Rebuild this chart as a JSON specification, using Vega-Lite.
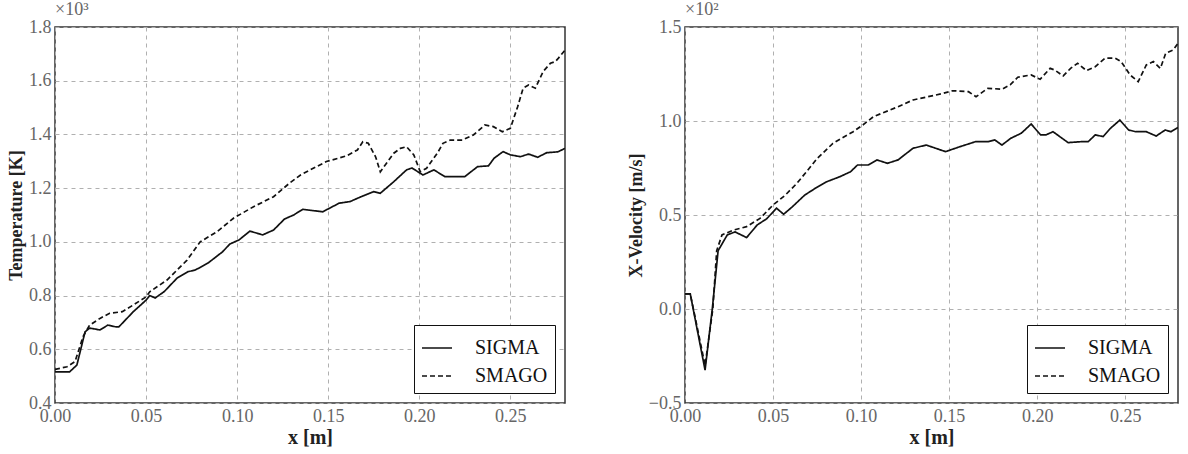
{
  "$schema": "https://vega.github.io/schema/vega-lite/v6.json",
  "padding": {"left": 6, "top": 0, "right": 4, "bottom": 0},
  "background": "white",
  "datasets": {
    "temp": [
      {"x": 0, "v": 516, "m": "SIGMA"}, {"x": 0.008, "v": 516, "m": "SIGMA"}, {"x": 0.012, "v": 541, "m": "SIGMA"}, {"x": 0.0165, "v": 665, "m": "SIGMA"}, {"x": 0.019, "v": 679, "m": "SIGMA"}, {"x": 0.0247, "v": 672, "m": "SIGMA"}, {"x": 0.029, "v": 690, "m": "SIGMA"}, {"x": 0.033, "v": 684, "m": "SIGMA"}, {"x": 0.035, "v": 683, "m": "SIGMA"}, {"x": 0.043, "v": 740, "m": "SIGMA"}, {"x": 0.05, "v": 783, "m": "SIGMA"}, {"x": 0.052, "v": 800, "m": "SIGMA"}, {"x": 0.055, "v": 791, "m": "SIGMA"}, {"x": 0.06, "v": 815, "m": "SIGMA"}, {"x": 0.067, "v": 865, "m": "SIGMA"}, {"x": 0.073, "v": 889, "m": "SIGMA"}, {"x": 0.077, "v": 895, "m": "SIGMA"}, {"x": 0.084, "v": 921, "m": "SIGMA"}, {"x": 0.092, "v": 963, "m": "SIGMA"}, {"x": 0.096, "v": 992, "m": "SIGMA"}, {"x": 0.101, "v": 1007, "m": "SIGMA"}, {"x": 0.107, "v": 1040, "m": "SIGMA"}, {"x": 0.114, "v": 1026, "m": "SIGMA"}, {"x": 0.12, "v": 1044, "m": "SIGMA"}, {"x": 0.126, "v": 1085, "m": "SIGMA"}, {"x": 0.131, "v": 1100, "m": "SIGMA"}, {"x": 0.136, "v": 1121, "m": "SIGMA"}, {"x": 0.147, "v": 1112, "m": "SIGMA"}, {"x": 0.156, "v": 1144, "m": "SIGMA"}, {"x": 0.162, "v": 1150, "m": "SIGMA"}, {"x": 0.168, "v": 1168, "m": "SIGMA"}, {"x": 0.175, "v": 1187, "m": "SIGMA"}, {"x": 0.1786, "v": 1181, "m": "SIGMA"}, {"x": 0.186, "v": 1224, "m": "SIGMA"}, {"x": 0.193, "v": 1268, "m": "SIGMA"}, {"x": 0.196, "v": 1275, "m": "SIGMA"}, {"x": 0.202, "v": 1249, "m": "SIGMA"}, {"x": 0.208, "v": 1268, "m": "SIGMA"}, {"x": 0.214, "v": 1243, "m": "SIGMA"}, {"x": 0.225, "v": 1243, "m": "SIGMA"}, {"x": 0.232, "v": 1280, "m": "SIGMA"}, {"x": 0.238, "v": 1283, "m": "SIGMA"}, {"x": 0.241, "v": 1311, "m": "SIGMA"}, {"x": 0.246, "v": 1336, "m": "SIGMA"}, {"x": 0.25, "v": 1324, "m": "SIGMA"}, {"x": 0.2555, "v": 1317, "m": "SIGMA"}, {"x": 0.26, "v": 1327, "m": "SIGMA"}, {"x": 0.265, "v": 1315, "m": "SIGMA"}, {"x": 0.27, "v": 1332, "m": "SIGMA"}, {"x": 0.276, "v": 1335, "m": "SIGMA"}, {"x": 0.28, "v": 1348, "m": "SIGMA"},
      {"x": 0, "v": 525, "m": "SMAGO"}, {"x": 0.0066, "v": 535, "m": "SMAGO"}, {"x": 0.011, "v": 554, "m": "SMAGO"}, {"x": 0.0154, "v": 647, "m": "SMAGO"}, {"x": 0.019, "v": 690, "m": "SMAGO"}, {"x": 0.0247, "v": 715, "m": "SMAGO"}, {"x": 0.03, "v": 734, "m": "SMAGO"}, {"x": 0.037, "v": 740, "m": "SMAGO"}, {"x": 0.043, "v": 765, "m": "SMAGO"}, {"x": 0.05, "v": 795, "m": "SMAGO"}, {"x": 0.052, "v": 814, "m": "SMAGO"}, {"x": 0.0615, "v": 858, "m": "SMAGO"}, {"x": 0.0725, "v": 932, "m": "SMAGO"}, {"x": 0.0797, "v": 1000, "m": "SMAGO"}, {"x": 0.089, "v": 1038, "m": "SMAGO"}, {"x": 0.098, "v": 1088, "m": "SMAGO"}, {"x": 0.109, "v": 1131, "m": "SMAGO"}, {"x": 0.12, "v": 1168, "m": "SMAGO"}, {"x": 0.129, "v": 1220, "m": "SMAGO"}, {"x": 0.135, "v": 1250, "m": "SMAGO"}, {"x": 0.149, "v": 1299, "m": "SMAGO"}, {"x": 0.16, "v": 1320, "m": "SMAGO"}, {"x": 0.166, "v": 1342, "m": "SMAGO"}, {"x": 0.169, "v": 1373, "m": "SMAGO"}, {"x": 0.172, "v": 1367, "m": "SMAGO"}, {"x": 0.176, "v": 1317, "m": "SMAGO"}, {"x": 0.1786, "v": 1261, "m": "SMAGO"}, {"x": 0.182, "v": 1293, "m": "SMAGO"}, {"x": 0.186, "v": 1330, "m": "SMAGO"}, {"x": 0.1896, "v": 1348, "m": "SMAGO"}, {"x": 0.193, "v": 1354, "m": "SMAGO"}, {"x": 0.197, "v": 1324, "m": "SMAGO"}, {"x": 0.2005, "v": 1261, "m": "SMAGO"}, {"x": 0.204, "v": 1274, "m": "SMAGO"}, {"x": 0.21, "v": 1331, "m": "SMAGO"}, {"x": 0.213, "v": 1367, "m": "SMAGO"}, {"x": 0.217, "v": 1379, "m": "SMAGO"}, {"x": 0.2236, "v": 1379, "m": "SMAGO"}, {"x": 0.2297, "v": 1398, "m": "SMAGO"}, {"x": 0.236, "v": 1435, "m": "SMAGO"}, {"x": 0.2407, "v": 1429, "m": "SMAGO"}, {"x": 0.2456, "v": 1410, "m": "SMAGO"}, {"x": 0.25, "v": 1423, "m": "SMAGO"}, {"x": 0.254, "v": 1503, "m": "SMAGO"}, {"x": 0.257, "v": 1572, "m": "SMAGO"}, {"x": 0.26, "v": 1584, "m": "SMAGO"}, {"x": 0.2637, "v": 1572, "m": "SMAGO"}, {"x": 0.268, "v": 1634, "m": "SMAGO"}, {"x": 0.272, "v": 1665, "m": "SMAGO"}, {"x": 0.2747, "v": 1671, "m": "SMAGO"}, {"x": 0.2764, "v": 1684, "m": "SMAGO"}, {"x": 0.28, "v": 1714, "m": "SMAGO"}
    ],
    "vel": [
      {"x": 0, "v": 8, "m": "SIGMA"}, {"x": 0.003, "v": 8, "m": "SIGMA"}, {"x": 0.0114, "v": -32.5, "m": "SIGMA"}, {"x": 0.0155, "v": 0, "m": "SIGMA"}, {"x": 0.0188, "v": 31, "m": "SIGMA"}, {"x": 0.024, "v": 39.4, "m": "SIGMA"}, {"x": 0.0284, "v": 41, "m": "SIGMA"}, {"x": 0.035, "v": 38, "m": "SIGMA"}, {"x": 0.041, "v": 44.7, "m": "SIGMA"}, {"x": 0.0464, "v": 48, "m": "SIGMA"}, {"x": 0.052, "v": 53.6, "m": "SIGMA"}, {"x": 0.056, "v": 50.4, "m": "SIGMA"}, {"x": 0.061, "v": 54.4, "m": "SIGMA"}, {"x": 0.068, "v": 60.6, "m": "SIGMA"}, {"x": 0.074, "v": 64.2, "m": "SIGMA"}, {"x": 0.0805, "v": 67.7, "m": "SIGMA"}, {"x": 0.088, "v": 70.4, "m": "SIGMA"}, {"x": 0.094, "v": 73, "m": "SIGMA"}, {"x": 0.098, "v": 76.6, "m": "SIGMA"}, {"x": 0.104, "v": 76.6, "m": "SIGMA"}, {"x": 0.109, "v": 79.3, "m": "SIGMA"}, {"x": 0.115, "v": 77.5, "m": "SIGMA"}, {"x": 0.121, "v": 79.3, "m": "SIGMA"}, {"x": 0.1295, "v": 85.5, "m": "SIGMA"}, {"x": 0.137, "v": 87.2, "m": "SIGMA"}, {"x": 0.148, "v": 83.7, "m": "SIGMA"}, {"x": 0.156, "v": 86.3, "m": "SIGMA"}, {"x": 0.165, "v": 89, "m": "SIGMA"}, {"x": 0.172, "v": 89, "m": "SIGMA"}, {"x": 0.176, "v": 89.9, "m": "SIGMA"}, {"x": 0.18, "v": 87.2, "m": "SIGMA"}, {"x": 0.185, "v": 90.8, "m": "SIGMA"}, {"x": 0.191, "v": 93.5, "m": "SIGMA"}, {"x": 0.1966, "v": 98.4, "m": "SIGMA"}, {"x": 0.202, "v": 92.6, "m": "SIGMA"}, {"x": 0.205, "v": 92.6, "m": "SIGMA"}, {"x": 0.209, "v": 94.3, "m": "SIGMA"}, {"x": 0.2176, "v": 88.5, "m": "SIGMA"}, {"x": 0.225, "v": 89, "m": "SIGMA"}, {"x": 0.229, "v": 89, "m": "SIGMA"}, {"x": 0.233, "v": 92.6, "m": "SIGMA"}, {"x": 0.2375, "v": 91.7, "m": "SIGMA"}, {"x": 0.2415, "v": 96, "m": "SIGMA"}, {"x": 0.247, "v": 100.5, "m": "SIGMA"}, {"x": 0.252, "v": 95.2, "m": "SIGMA"}, {"x": 0.256, "v": 94.3, "m": "SIGMA"}, {"x": 0.262, "v": 94.3, "m": "SIGMA"}, {"x": 0.2676, "v": 92, "m": "SIGMA"}, {"x": 0.2727, "v": 95.2, "m": "SIGMA"}, {"x": 0.276, "v": 94.3, "m": "SIGMA"}, {"x": 0.28, "v": 96.6, "m": "SIGMA"},
      {"x": 0, "v": 8, "m": "SMAGO"}, {"x": 0.003, "v": 8, "m": "SMAGO"}, {"x": 0.0114, "v": -30, "m": "SMAGO"}, {"x": 0.0158, "v": 0, "m": "SMAGO"}, {"x": 0.018, "v": 31, "m": "SMAGO"}, {"x": 0.021, "v": 39.4, "m": "SMAGO"}, {"x": 0.0275, "v": 42, "m": "SMAGO"}, {"x": 0.035, "v": 43.8, "m": "SMAGO"}, {"x": 0.0426, "v": 48.2, "m": "SMAGO"}, {"x": 0.05, "v": 55.3, "m": "SMAGO"}, {"x": 0.057, "v": 60.6, "m": "SMAGO"}, {"x": 0.0636, "v": 66.9, "m": "SMAGO"}, {"x": 0.069, "v": 73, "m": "SMAGO"}, {"x": 0.075, "v": 80, "m": "SMAGO"}, {"x": 0.084, "v": 88.1, "m": "SMAGO"}, {"x": 0.0955, "v": 94.3, "m": "SMAGO"}, {"x": 0.101, "v": 97.9, "m": "SMAGO"}, {"x": 0.107, "v": 102.3, "m": "SMAGO"}, {"x": 0.1165, "v": 105.9, "m": "SMAGO"}, {"x": 0.121, "v": 107.6, "m": "SMAGO"}, {"x": 0.1295, "v": 111.2, "m": "SMAGO"}, {"x": 0.138, "v": 112.9, "m": "SMAGO"}, {"x": 0.1466, "v": 114.7, "m": "SMAGO"}, {"x": 0.152, "v": 116.1, "m": "SMAGO"}, {"x": 0.161, "v": 115.6, "m": "SMAGO"}, {"x": 0.1653, "v": 112.9, "m": "SMAGO"}, {"x": 0.172, "v": 117.4, "m": "SMAGO"}, {"x": 0.18, "v": 116.9, "m": "SMAGO"}, {"x": 0.1847, "v": 119.2, "m": "SMAGO"}, {"x": 0.189, "v": 123.3, "m": "SMAGO"}, {"x": 0.1966, "v": 124.5, "m": "SMAGO"}, {"x": 0.2017, "v": 122.2, "m": "SMAGO"}, {"x": 0.2074, "v": 128, "m": "SMAGO"}, {"x": 0.21, "v": 127.1, "m": "SMAGO"}, {"x": 0.2148, "v": 124, "m": "SMAGO"}, {"x": 0.219, "v": 128, "m": "SMAGO"}, {"x": 0.223, "v": 130.7, "m": "SMAGO"}, {"x": 0.228, "v": 126.8, "m": "SMAGO"}, {"x": 0.233, "v": 128.9, "m": "SMAGO"}, {"x": 0.2386, "v": 133.4, "m": "SMAGO"}, {"x": 0.2443, "v": 133.4, "m": "SMAGO"}, {"x": 0.2477, "v": 131.6, "m": "SMAGO"}, {"x": 0.2528, "v": 124.5, "m": "SMAGO"}, {"x": 0.2574, "v": 120.9, "m": "SMAGO"}, {"x": 0.262, "v": 129.8, "m": "SMAGO"}, {"x": 0.266, "v": 131.6, "m": "SMAGO"}, {"x": 0.27, "v": 128, "m": "SMAGO"}, {"x": 0.273, "v": 136, "m": "SMAGO"}, {"x": 0.2773, "v": 137.8, "m": "SMAGO"}, {"x": 0.28, "v": 141.3, "m": "SMAGO"}
    ]
  },
  "config": {
    "font": "Liberation Serif",
    "view": {"stroke": "#333", "strokeWidth": 1.5},
    "axis": {
      "domain": false, "ticks": false, "grid": true, "gridDash": [4, 4], "gridColor": "#b0b0b0", "gridWidth": 1,
      "labelColor": "#666", "labelFont": "Liberation Serif", "labelFontSize": 18, "labelPadding": 4, "labelFlush": false,
      "titleFont": "Liberation Serif", "titleFontSize": 18, "titleFontWeight": "bold", "titleColor": "#222", "titlePadding": 3
    },
    "axisX": {"titleFontSize": 20, "titlePadding": 2},
    "legend": {
      "orient": "bottom-right", "offset": 10, "title": null, "strokeColor": "#111", "fillColor": "white", "padding": 7,
      "cornerRadius": 0, "symbolType": "stroke", "symbolSize": 900, "symbolStrokeWidth": 1.6, "symbolStrokeColor": "#111",
      "labelFont": "Liberation Serif", "labelFontSize": 20, "labelColor": "#111", "labelOffset": 22, "rowPadding": 2
    },
    "title": {"anchor": "start", "frame": "group", "font": "Liberation Serif", "fontSize": 18, "fontWeight": "normal", "color": "#666", "offset": -1},
    "concat": {"spacing": 60}
  },
  "resolve": {"scale": {"strokeDash": "independent"}, "legend": {"strokeDash": "independent"}},
  "hconcat": [
    {
      "width": 510, "height": 376,
      "title": {"text": "×10³"},
      "data": {"name": "temp"},
      "mark": {"type": "line", "color": "#111", "strokeWidth": 1.7, "clip": true},
      "encoding": {
        "x": {"field": "x", "type": "quantitative", "scale": {"domain": [0, 0.28], "nice": false, "zero": false},
              "axis": {"title": "x [m]", "values": [0, 0.05, 0.1, 0.15, 0.2, 0.25], "format": ".2f"}},
        "y": {"field": "v", "type": "quantitative", "scale": {"domain": [400, 1800], "nice": false, "zero": false},
              "axis": {"title": "Temperature [K]", "values": [400, 600, 800, 1000, 1200, 1400, 1600, 1800], "labelExpr": "format(datum.value / 1000, '.1f')"}},
        "strokeDash": {"field": "m", "type": "nominal", "scale": {"domain": ["SIGMA", "SMAGO"], "range": [[1, 0], [5, 3]]}}
      }
    },
    {
      "width": 493, "height": 376,
      "title": {"text": "×10²"},
      "data": {"name": "vel"},
      "mark": {"type": "line", "color": "#111", "strokeWidth": 1.7, "clip": true},
      "encoding": {
        "x": {"field": "x", "type": "quantitative", "scale": {"domain": [0, 0.28], "nice": false, "zero": false},
              "axis": {"title": "x [m]", "values": [0, 0.05, 0.1, 0.15, 0.2, 0.25], "format": ".2f"}},
        "y": {"field": "v", "type": "quantitative", "scale": {"domain": [-50, 150], "nice": false, "zero": false},
              "axis": {"title": "X-Velocity [m/s]", "values": [-50, 0, 50, 100, 150], "labelExpr": "format(datum.value / 100, '.1f')"}},
        "strokeDash": {"field": "m", "type": "nominal", "scale": {"domain": ["SIGMA", "SMAGO"], "range": [[1, 0], [5, 3]]}}
      }
    }
  ]
}
